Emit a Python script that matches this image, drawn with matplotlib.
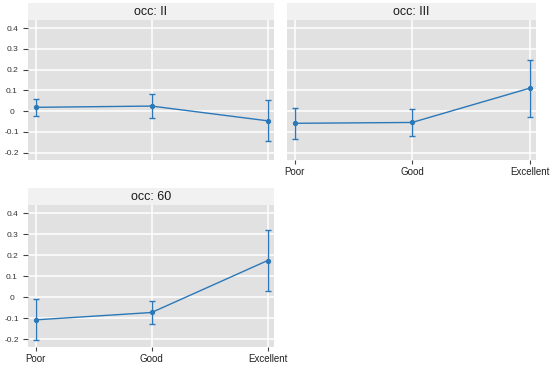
import matplotlib
matplotlib.use("Agg")
import matplotlib.pyplot as plt

plt.rcParams['font.family'] = ['Liberation Sans', 'DejaVu Sans']

# Data (mean and error bar ends per rating)
categories = ["Poor", "Good", "Excellent"]
facets = ["occ: II", "occ: III", "occ: 60"]

mean_ii = [0.018, 0.024, -0.047]
upper_ii = [0.058, 0.082, 0.053]
lower_ii = [-0.024, -0.032, -0.146]

mean_iii = [-0.059, -0.055, 0.110]
upper_iii = [0.016, 0.008, 0.246]
lower_iii = [-0.135, -0.119, -0.027]

mean_60 = [-0.107, -0.072, 0.175]
upper_60 = [-0.010, -0.018, 0.322]
lower_60 = [-0.203, -0.127, 0.029]

yticks = [0.4, 0.3, 0.2, 0.1, 0.0, -0.1, -0.2]
ytick_labels = ["0.4", "0.3", "0.2", "0.1", "0", "-0.1", "-0.2"]

W, H = 550, 366
LINE = '#2b78b8'
PANEL_BG = '#e1e1e1'
STRIP_BG = '#f1f1f1'
TICK_C = '#444444'


def box(l, t, r, b):
    return [l / W, 1 - b / H, (r - l) / W, (b - t) / H]


fig = plt.figure(figsize=(W / 100, H / 100), dpi=100)
fig.patch.set_facecolor('white')


def draw_panel(panel, strip, title, mean, upper, lower, show_y, show_x):
    ax = fig.add_axes(box(*panel))
    ax.set_facecolor(PANEL_BG)
    for s in ax.spines.values():
        s.set_visible(False)
    x = list(range(len(categories)))
    yerr = [[m - lo for m, lo in zip(mean, lower)],
            [up - m for m, up in zip(mean, upper)]]
    ax.errorbar(x, mean, yerr=yerr, color=LINE, lw=1.0, elinewidth=1.0,
                capsize=2.2, capthick=1.0, marker='o', ms=2.8, zorder=3)
    ax.set_xlim(-0.065, 2.055)
    ax.set_ylim(-0.236, 0.439)
    ax.set_xticks(x)
    ax.set_yticks(yticks)
    ax.grid(True, color='white', lw=1.1)
    ax.set_axisbelow(True)

    if show_y:
        ax.set_yticklabels(ytick_labels)
        ax.tick_params(axis='y', length=3.6, width=0.8, color=TICK_C, pad=7.9,
                       labelsize=6, labelcolor='#333333')
        for lab in ax.get_yticklabels():
            lab.set_ha('center')
    else:
        ax.tick_params(axis='y', length=0, labelleft=False)

    if show_x:
        ax.set_xticklabels(categories)
        ax.tick_params(axis='x', length=3.0, width=0.8, color=TICK_C, pad=2.0,
                       labelsize=7, labelcolor='#222222')
    else:
        ax.tick_params(axis='x', length=0, labelbottom=False)

    sx = fig.add_axes(box(*strip))
    sx.set_facecolor(STRIP_BG)
    for s in sx.spines.values():
        s.set_visible(False)
    sx.set_xticks([])
    sx.set_yticks([])
    sx.text(0.5, 0.45, title, ha='center', va='center', fontsize=9,
            color='#1a1a1a', transform=sx.transAxes)
    return ax


draw_panel((28, 20, 274, 160), (28, 3, 274, 20), facets[0],
           mean_ii, upper_ii, lower_ii, True, False)
draw_panel((287, 20, 536, 160), (287, 3, 536, 20), facets[1],
           mean_iii, upper_iii, lower_iii, False, True)
draw_panel((28, 205, 274, 347), (28, 188, 274, 205), facets[2],
           mean_60, upper_60, lower_60, True, True)

fig.savefig("out.png", dpi=100, facecolor='white')
